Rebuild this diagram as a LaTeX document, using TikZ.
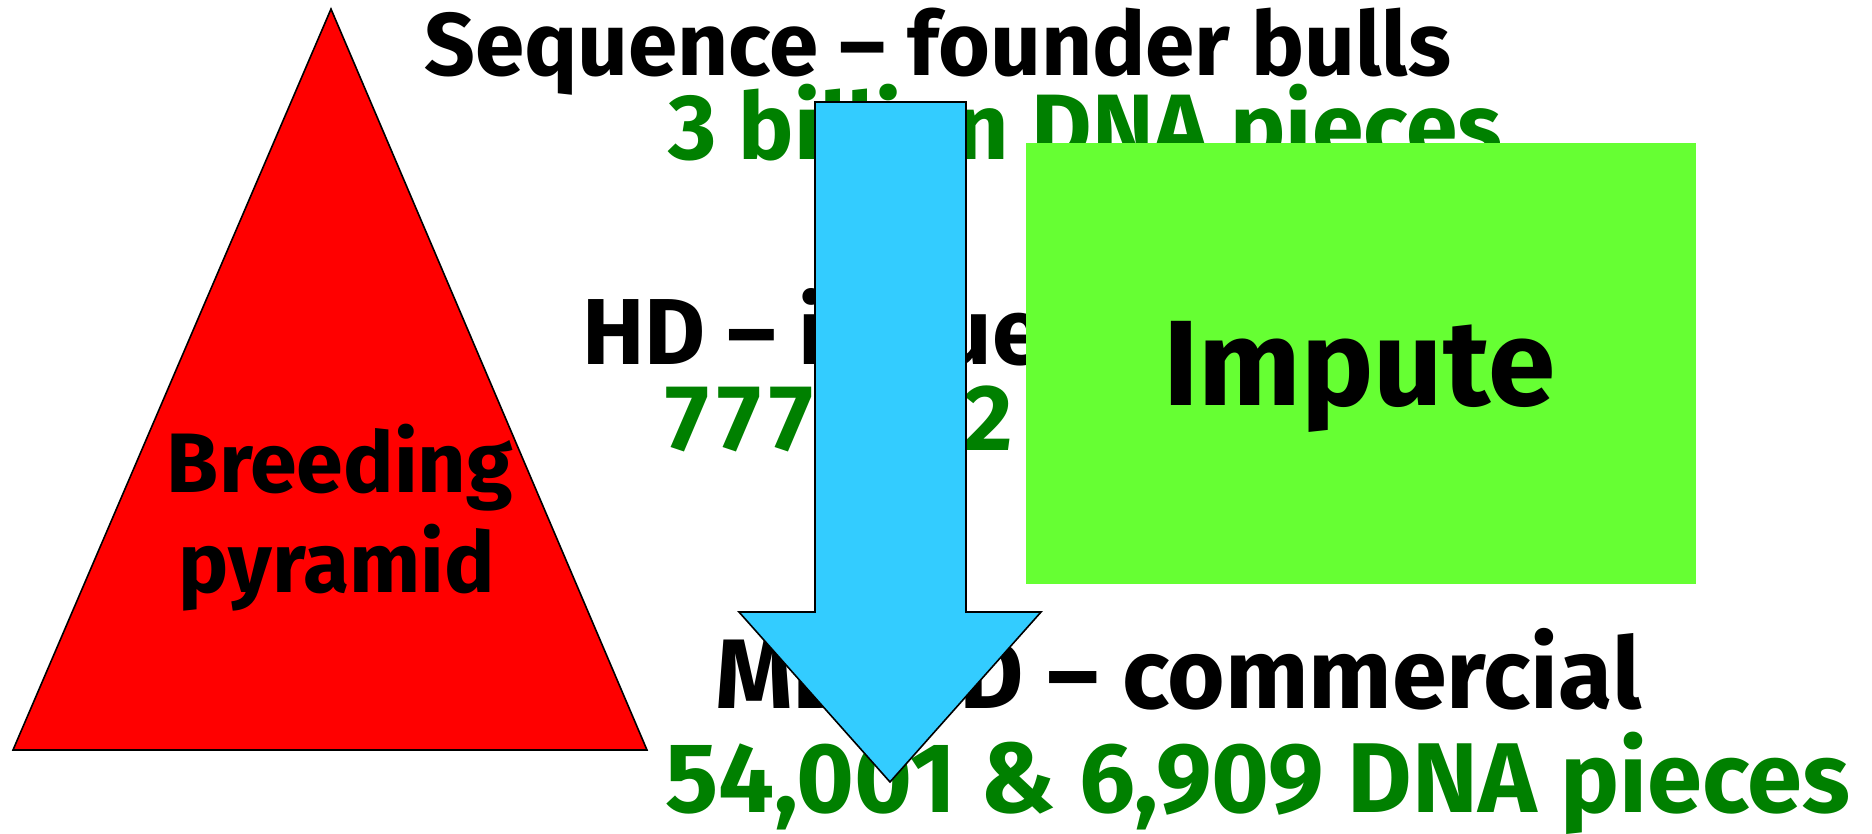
\documentclass[tikz,border=0pt]{standalone}
\usepackage{fontspec}
\setmainfont{Fira Sans}
\usepackage{graphicx}
\definecolor{pyrred}{HTML}{FF0000}
\definecolor{arrowblue}{HTML}{33CCFF}
\definecolor{imputegreen}{HTML}{66FF33}
\definecolor{dnagreen}{HTML}{008000}
\begin{document}
\begin{tikzpicture}[x=1pt,y=-1pt,
  txt/.style={inner sep=0pt, anchor=base west, font=\bfseries\fontsize{86}{100}\selectfont},
  blk/.style={txt, text=black},
  grn/.style={txt, text=dnagreen},
  shapeline/.style={draw=black, line width=1.6pt, line join=miter}]
\useasboundingbox (0,0) rectangle (1872,834);
% level texts
\node[blk] (seq) at (424,76) {\resizebox{1027pt}{!}{Sequence – founder bulls}};
\node[grn] (seqn) at (668,160) {\resizebox{834pt}{!}{3 billion DNA pieces}};
\node[blk] (hd) at (582,365) {\scalebox{1.09}{HD – influential bulls}};
\node[grn] (hdn) at (665,450) {\scalebox{1.09}{{\addfontfeatures{LetterSpace=9}777,962} DNA pieces}};
\node[blk] (md) at (715,708) {\resizebox{926pt}{!}{MD/LD – commercial}};
\node[grn] (mdn) at (665,812) {\resizebox{1185pt}{!}{54,001 \& 6,909 DNA pieces}};
% pyramid
\coordinate (apex) at (331,9);
\coordinate (bl) at (13,750);
\coordinate (br) at (647,750);
\draw[shapeline, fill=pyrred] (apex) -- (bl) -- (br) -- cycle;
\node[blk, anchor=base] (b1) at (340,492) {\resizebox{346pt}{!}{Breeding}};
\node[blk, anchor=base] (b2) at (337,592) {\resizebox{316pt}{!}{pyramid}};
% arrow
\coordinate (s1) at (815,102);
\coordinate (s2) at (966,102);
\coordinate (s3) at (966,612);
\coordinate (h1) at (1041,612);
\coordinate (tip) at (890,782);
\coordinate (h2) at (739,612);
\coordinate (s4) at (815,612);
\draw[shapeline, fill=arrowblue] (s1) -- (s2) -- (s3) -- (h1) -- (tip) -- (h2) -- (s4) -- cycle;
% impute box
\fill[imputegreen] (1026,143) rectangle (1696,584);
\node[blk] (imp) at (1163,405) {\resizebox{392pt}{!}{Impute}};
\end{tikzpicture}
\end{document}
